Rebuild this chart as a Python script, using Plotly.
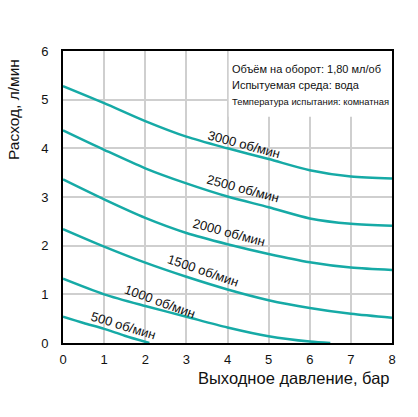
import plotly.graph_objects as go

# ---- data ----
x_3000 = [0, 1, 2, 3, 4, 5, 6, 7, 8]
y_3000 = [5.28, 4.93, 4.56, 4.24, 4.00, 3.78, 3.55, 3.42, 3.38]

x_2500 = [0, 1, 2, 3, 4, 5, 6, 7, 8]
y_2500 = [4.37, 3.97, 3.59, 3.28, 3.01, 2.79, 2.56, 2.45, 2.41]

x_2000 = [0, 1, 2, 3, 4, 5, 6, 7, 8]
y_2000 = [3.36, 2.95, 2.57, 2.26, 2.03, 1.83, 1.66, 1.55, 1.50]

x_1500 = [0, 1, 2, 3, 4, 5, 6, 7, 8]
y_1500 = [2.34, 1.98, 1.65, 1.36, 1.10, 0.88, 0.72, 0.60, 0.52]

x_1000 = [0, 1, 2, 3, 4, 5, 6, 6.5]
y_1000 = [1.32, 1.00, 0.76, 0.54, 0.32, 0.14, 0.03, 0.0]

x_500 = [0, 0.5, 1, 1.5, 2.1]
y_500 = [0.54, 0.41, 0.29, 0.15, 0.0]

series = [
    ("3000 об/мин", x_3000, y_3000),
    ("2500 об/мин", x_2500, y_2500),
    ("2000 об/мин", x_2000, y_2000),
    ("1500 об/мин", x_1500, y_1500),
    ("1000 об/мин", x_1000, y_1000),
    ("500 об/мин", x_500, y_500),
]

# curve label positions (x, y, angle)
label_pos = {
    "3000 об/мин": (4.41, 4.08, 15),
    "2500 об/мин": (4.37, 3.18, 15),
    "2000 об/мин": (4.04, 2.27, 15),
    "1500 об/мин": (3.40, 1.49, 19),
    "1000 об/мин": (2.36, 0.86, 20),
    "500 об/мин": (1.46, 0.36, 17),
}

info_lines = [
    "Объём на оборот: 1,80 мл/об",
    "Испытуемая среда: вода",
    "Температура испытания: комнатная",
]

x_ticks = [0, 1, 2, 3, 4, 5, 6, 7, 8]
y_ticks = [0, 1, 2, 3, 4, 5, 6]

x_title = "Выходное давление, бар"
y_title = "Расход, л/мин"

CURVE = "#16aaa6"
FONT = "Arial, Liberation Sans, sans-serif"

fig = go.Figure()
for name, xs, ys in series:
    fig.add_trace(go.Scatter(
        x=xs, y=ys, mode="lines", name=name,
        line=dict(color=CURVE, width=2.5, shape="spline", smoothing=0.8),
        showlegend=False, hoverinfo="skip",
    ))

for name, (lx, ly, ang) in label_pos.items():
    fig.add_annotation(x=lx, y=ly, text=name, showarrow=False, textangle=ang,
                       font=dict(family=FONT, size=13, color="#111"),
                       xanchor="center", yanchor="middle")

# white info box covering grid
fig.add_shape(type="rect", x0=4.03, x1=8, y0=4.65, y1=6, xref="x", yref="y",
              fillcolor="white", line=dict(width=0), layer="between")

info_y = [5.64, 5.30, 4.96]
info_size = [11, 11, 9.4]
for t, yy, sz in zip(info_lines, info_y, info_size):
    fig.add_annotation(x=4.06, y=yy, text=t, showarrow=False,
                       xanchor="left", yanchor="middle",
                       font=dict(family=FONT, size=sz, color="#111"))

fig.add_annotation(xref="paper", yref="paper", x=1.0, y=-0.12,
                   text=x_title, showarrow=False, xanchor="right", yanchor="middle",
                   font=dict(family=FONT, size=16.5, color="#111"))
fig.add_annotation(xref="paper", yref="paper", x=-0.15, y=0.80,
                   text=y_title, showarrow=False, textangle=-90,
                   xanchor="center", yanchor="middle",
                   font=dict(family=FONT, size=15.5, color="#111"))

fig.update_xaxes(range=[0, 8], tickvals=x_ticks, ticktext=[str(v) for v in x_ticks],
                 showgrid=True, gridcolor="#cfcfcf", gridwidth=1.5,
                 showline=True, mirror=True, linecolor="black", linewidth=2,
                 zeroline=False, ticks="", ticklabelstandoff=3,
                 tickfont=dict(family=FONT, size=13, color="#111"))
fig.update_yaxes(range=[0, 6], tickvals=y_ticks, ticktext=[str(v) for v in y_ticks],
                 showgrid=True, gridcolor="#cfcfcf", gridwidth=1.5,
                 showline=True, mirror=True, linecolor="black", linewidth=2,
                 zeroline=False, ticks="", ticklabelstandoff=10,
                 tickfont=dict(family=FONT, size=13, color="#111"))

fig.update_layout(width=418, height=417,
                  margin=dict(l=63, r=26, t=51, b=74),
                  paper_bgcolor="white", plot_bgcolor="white")

fig.write_html("out.html")
